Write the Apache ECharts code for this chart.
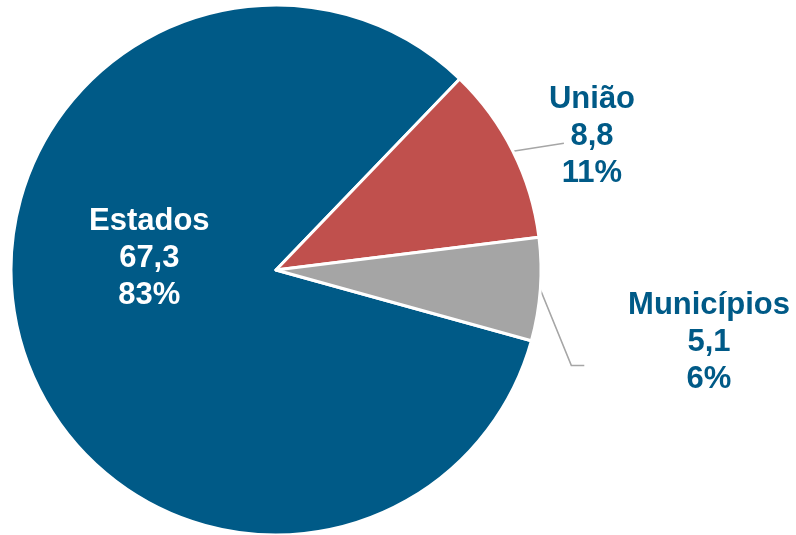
<!DOCTYPE html>
<html>
<head>
<meta charset="utf-8">
<script src="https://cdn.jsdelivr.net/npm/echarts@6/dist/echarts.min.js"></script>
<style>
  html, body { margin: 0; padding: 0; background: #fff; }
  #main { width: 796px; height: 535px; }
</style>
</head>
<body>
<div id="main"></div>
<script>
// dados do gráfico
var categorias = ['Estados', 'União', 'Municípios'];
var valores = [67.3, 8.8, 5.1];
var cores = ['#005A87', '#C0504D', '#A5A5A5'];

var fmtNum = function (v) { return String(v).replace('.', ','); };

var chart = echarts.init(document.getElementById('main'));

var dados = categorias.map(function (nome, i) {
  var item = { name: nome, value: valores[i], itemStyle: { color: cores[i] } };
  if (i === 0) {
    // rótulo dentro da fatia
    item.label = { position: 'inside', color: '#fff', offset: [4, -47] };
    item.labelLine = { show: false };
  }
  return item;
});

chart.setOption({
  animation: false,
  series: [{
    type: 'pie',
    center: [276, 270],
    radius: 265,
    startAngle: 344.5,
    clockwise: true,
    avoidLabelOverlap: false,
    itemStyle: { borderColor: '#fff', borderWidth: 3 },
    label: {
      show: true,
      position: 'outside',
      fontFamily: 'Liberation Sans, Arial, sans-serif',
      fontWeight: 'bold',
      fontSize: 31,
      lineHeight: 37,
      color: '#005A87',
      align: 'center',
      formatter: function (p) {
        return p.name + '\n' + fmtNum(p.value) + '\n' + Math.round(p.percent) + '%';
      }
    },
    labelLine: {
      show: true,
      length: 20,
      length2: 10,
      lineStyle: { color: '#A6A6A6', width: 1.5 }
    },
    labelLayout: function (p) {
      if (p.dataIndex === 0 || !p.labelLinePoints) return {};
      var s = p.labelLinePoints[0];
      if (p.dataIndex === 1) {
        var a = [s[0] + 51, s[1] - 8];
        return { x: 592, y: 136, align: 'center', verticalAlign: 'middle',
                 labelLinePoints: [s, a, a] };
      }
      var b = [s[0] + 31, s[1] + 76];
      var c = [b[0] + 13, b[1]];
      return { x: 709, y: 342, align: 'center', verticalAlign: 'middle',
               labelLinePoints: [s, b, c] };
    },
    data: dados
  }]
});
</script>
</body>
</html>
